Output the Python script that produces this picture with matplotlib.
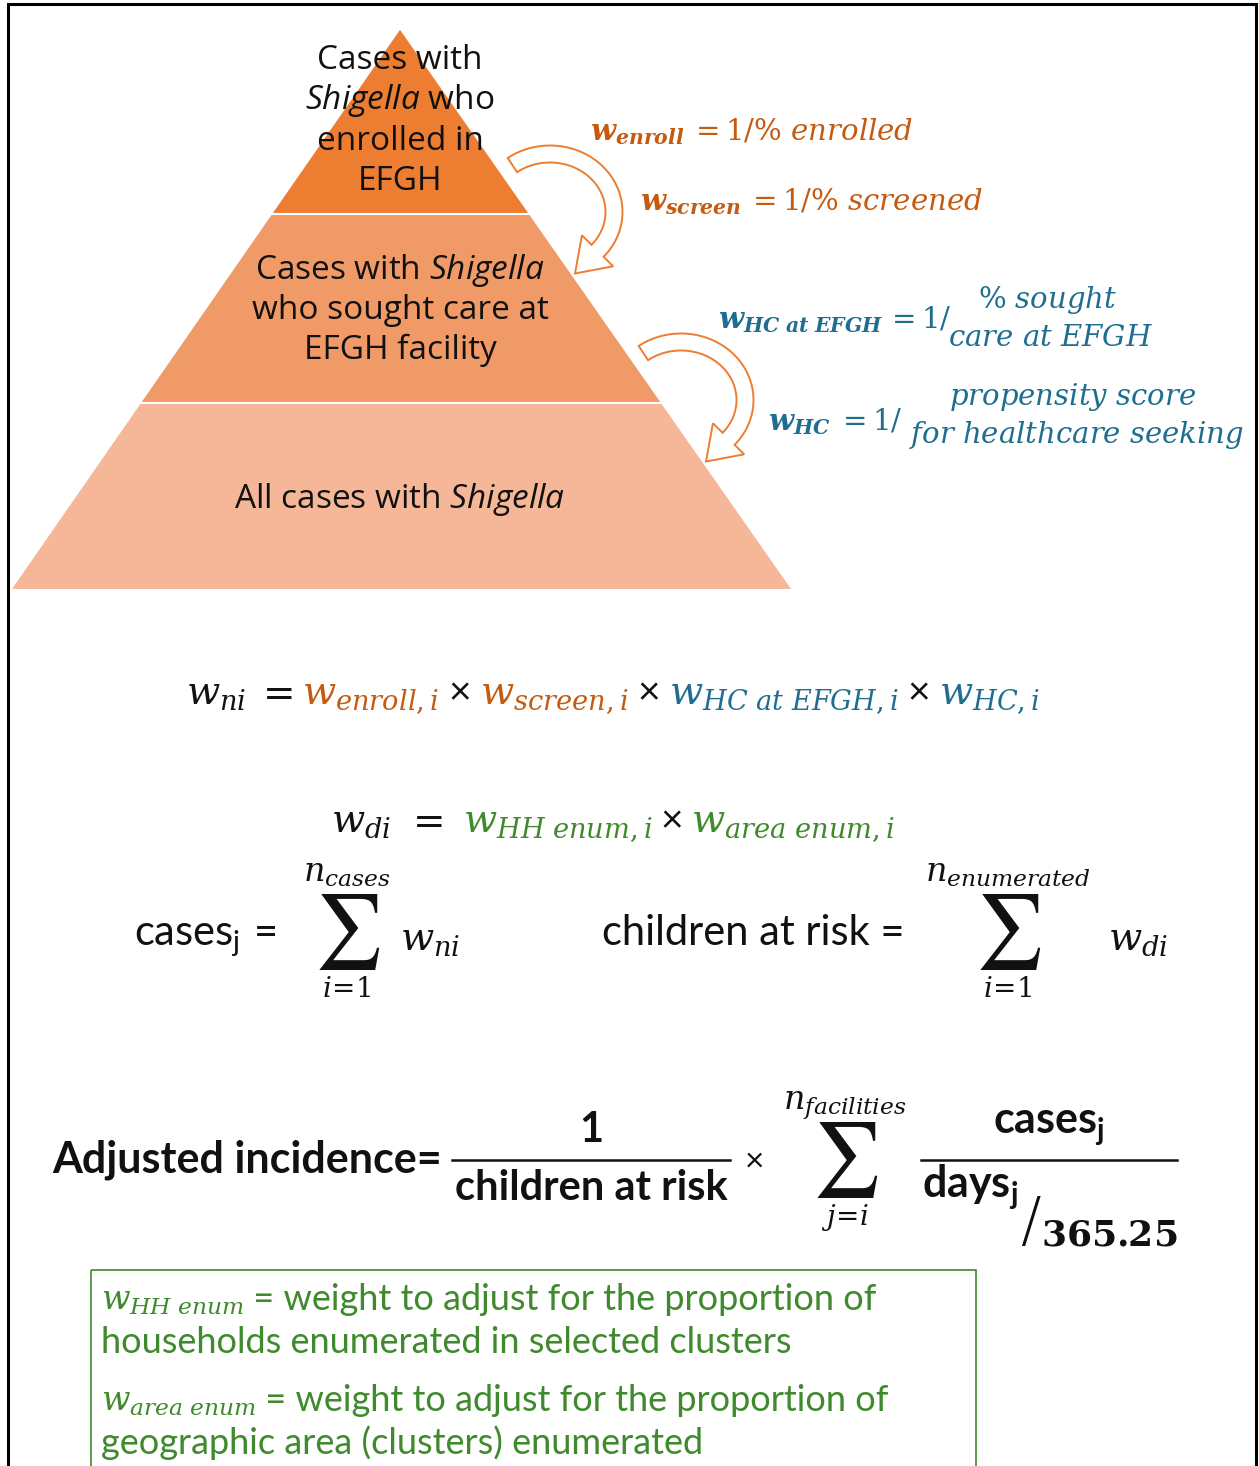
"""Shigella incidence weighting diagram: pyramid, weight rules and formulas."""

import numpy as np
import matplotlib
matplotlib.use("Agg")
import matplotlib.pyplot as plt
from matplotlib.patches import Polygon, Rectangle

W, H = 1259, 1466

# colours
ORANGE = "#C55A11"
BLUE = "#1F6E8F"
GREEN = "#3E8A2C"
BLACK = "#111111"
ARROW_EDGE = "#ED7D31"

SANS = ["Lato", "DejaVu Sans"]
WIDE = ["Open Sans", "DejaVu Sans"]

plt.rcParams["mathtext.rm"] = "Lato"
plt.rcParams["mathtext.bf"] = "Lato:bold"
plt.rcParams["mathtext.it"] = "Open Sans:italic"

# pyramid tiers, top to bottom
TIER_COLORS = ["#ED7D31", "#F09A68", "#F5B797"]
TIER_LABELS = [
    ["Cases with", r"$\mathit{Shigella}$ who", "enrolled in", "EFGH"],
    [r"Cases with $\mathit{Shigella}$", "who sought care at", "EFGH facility"],
    [r"All cases with $\mathit{Shigella}$"],
]

# weight rules next to the pyramid
ENROLL_RULE = [r"$\mathbfit{w}_{\mathbfit{enroll}}$", r"$=1/\%\ \mathit{enrolled}$"]
SCREEN_RULE = [r"$\mathbfit{w}_{\mathbfit{screen}}$", r"$=1/\%\ \mathit{screened}$"]
HC_EFGH_RULE = [r"$\mathbfit{w}_{\mathbfit{HC\ at\ EFGH}}$", r"$=1/$"]
HC_EFGH_FRAC = [r"$\%\ \mathit{sought}$", r"$\mathit{care\ at\ EFGH}$"]
HC_RULE = [r"$\mathbfit{w}_{\mathbfit{HC}}$", r"$=1/$"]
HC_FRAC = [r"$\mathit{propensity\ score}$", r"$\mathit{for\ healthcare\ seeking}$"]

# numerator / denominator weight products
WN_TERMS = [(r"$w_{ni}$", BLACK), (r"$=$", BLACK), (r"$w_{enroll,i}$", ORANGE),
            ("×", BLACK), (r"$w_{screen,i}$", ORANGE), ("×", BLACK),
            (r"$w_{HC\ at\ EFGH,i}$", BLUE), ("×", BLACK), (r"$w_{HC,i}$", BLUE)]
WD_TERMS = [(r"$w_{di}$", BLACK), (r"$=$", BLACK), (r"$w_{HH\ enum,i}$", GREEN),
            ("×", BLACK), (r"$w_{area\ enum,i}$", GREEN)]

# sums: (centre x, upper limit, lower limit, summand, summand x)
SUMS = [(347, r"$n_{cases}$", r"$i\!=\!1$", r"$w_{ni}$", 400),
        (1008, r"$n_{enumerated}$", r"$i\!=\!1$", r"$w_{di}$", 1108)]

# definitions box
BOX_LINES = [
    (r"$w_{HH\ enum}$", " = weight to adjust for the proportion of"),
    (None, "households enumerated in selected clusters"),
    (r"$w_{area\ enum}$", " = weight to adjust for the proportion of"),
    (None, "geographic area (clusters) enumerated"),
]


def serif(color, size, **kw):
    return dict(color=color, fontsize=size, math_fontfamily="dejavuserif", **kw)


def sans(color, size, family=SANS, **kw):
    return dict(color=color, fontsize=size, family=family,
                math_fontfamily="custom", **kw)


def text_run(ax, x, y, pieces, renderer, align="left", gap=0.0):
    """Place (text, style) pieces side by side on one baseline."""
    artists, widths = [], []
    for txt, style in pieces:
        t = ax.text(0, y, txt, va="baseline", ha="left", **style)
        widths.append(t.get_window_extent(renderer).width)
        artists.append(t)
    gaps = gap if isinstance(gap, (list, tuple)) else [gap] * (len(pieces) - 1)
    total = sum(widths) + sum(gaps)
    start = x - total / 2 if align == "center" else x
    for i, (t, w) in enumerate(zip(artists, widths)):
        t.set_x(start)
        start += w + (gaps[i] if i < len(gaps) else 0)
    return artists


def big_sum(ax, cx, cy, upper, lower):
    ax.text(cx, cy, r"$\sum$", ha="center", va="center", fontsize=54,
            color=BLACK, math_fontfamily="stix")
    ax.text(cx, cy - 50, upper, ha="center", va="baseline", **serif(BLACK, 24))
    ax.text(cx, cy + 65, lower, ha="center", va="baseline", **serif(BLACK, 20))


def arc_arrow(ax, cx, cy, rx, ry, theta0, theta1, tail_w=17, head_w=44,
              head_len=32):
    """Hollow block arrow running clockwise along an ellipse (image coords)."""
    th = np.radians(np.linspace(theta0, theta1, 60))
    px, py = cx + rx * np.cos(th), cy - ry * np.sin(th)
    # direction of travel (clockwise) and outward normal
    tx, ty = rx * np.sin(th), ry * np.cos(th)
    norm = np.hypot(tx, ty)
    tx, ty = tx / norm, ty / norm
    nx, ny = ty, -tx
    outer = np.column_stack([px + nx * tail_w / 2, py + ny * tail_w / 2])
    inner = np.column_stack([px - nx * tail_w / 2, py - ny * tail_w / 2])
    bx, by = px[-1], py[-1]
    head = [(bx + nx[-1] * head_w / 2, by + ny[-1] * head_w / 2),
            (bx + tx[-1] * head_len, by + ty[-1] * head_len),
            (bx - nx[-1] * head_w / 2, by - ny[-1] * head_w / 2)]
    verts = np.vstack([outer, head, inner[::-1]])
    ax.add_patch(Polygon(verts, closed=True, fc="white", ec=ARROW_EDGE,
                         lw=1.4, zorder=3, joinstyle="miter"))


def draw_pyramid(ax):
    apex_x, apex_y = 400, 28
    base_y, base_l, base_r = 590, 10, 793
    bounds = [apex_y, 214, 403, base_y]

    def edge(y):
        f = (y - apex_y) / (base_y - apex_y)
        return apex_x - f * (apex_x - base_l), apex_x + f * (base_r - apex_x)

    for i, color in enumerate(TIER_COLORS):
        y0, y1 = bounds[i], bounds[i + 1]
        l0, r0 = edge(y0)
        l1, r1 = edge(y1)
        ax.add_patch(Polygon([(l0, y0), (r0, y0), (r1, y1), (l1, y1)],
                             closed=True, fc=color, ec="white", lw=1.5, zorder=1))

    baselines = [[69, 109, 150, 190], [279, 319, 359], [508]]
    for lines, ys in zip(TIER_LABELS, baselines):
        for line, y in zip(lines, ys):
            ax.text(400, y, line, ha="center", va="baseline", zorder=4,
                    **sans(BLACK, 24, family=WIDE))


def main():
    fig = plt.figure(figsize=(W / 100, H / 100), dpi=100)
    ax = fig.add_axes([0, 0, 1, 1])
    ax.set_xlim(0, W)
    ax.set_ylim(H, 0)
    ax.axis("off")
    renderer = fig.canvas.get_renderer()

    # outer frame (open at the bottom)
    ax.plot([8, 8, 1256, 1256], [H, 4, 4, H], color="black", lw=2.2,
            solid_joinstyle="miter")

    draw_pyramid(ax)
    arc_arrow(ax, 550, 212, 64, 58, 126, -42)
    arc_arrow(ax, 681, 400, 64, 58, 126, -42)

    # weight rules
    rs = 21
    text_run(ax, 590, 140, [(t, serif(ORANGE, rs)) for t in ENROLL_RULE],
             renderer, gap=6)
    text_run(ax, 640, 210, [(t, serif(ORANGE, rs)) for t in SCREEN_RULE],
             renderer, gap=6)
    text_run(ax, 718, 328, [(t, serif(BLUE, rs)) for t in HC_EFGH_RULE],
             renderer, gap=2)
    ax.text(1048, 308, HC_EFGH_FRAC[0], ha="center", va="baseline", **serif(BLUE, rs))
    ax.text(1050, 346, HC_EFGH_FRAC[1], ha="center", va="baseline", **serif(BLUE, rs))
    text_run(ax, 768, 430, [(t, serif(BLUE, rs)) for t in HC_RULE],
             renderer, gap=6)
    ax.text(1073, 405, HC_FRAC[0], ha="center", va="baseline", **serif(BLUE, rs))
    ax.text(1076, 443, HC_FRAC[1], ha="center", va="baseline", **serif(BLUE, rs))

    # w_ni and w_di products
    fs = 28
    pieces = [(t, sans(c, fs) if t == "×" else serif(c, fs)) for t, c in WN_TERMS]
    text_run(ax, 613, 704, pieces, renderer, align="center", gap=9)
    pieces = [(t, sans(c, fs) if t == "×" else serif(c, fs)) for t, c in WD_TERMS]
    text_run(ax, 613, 832, pieces, renderer, align="center", gap=[14, 20, 8, 8])

    # case and denominator sums
    text_run(ax, 134, 945, [(r"cases$_{\mathrm{j}}$", sans(BLACK, 30)),
                            ("=", sans(BLACK, 30))], renderer, gap=14)
    ax.text(602, 945, "children at risk =", ha="left", va="baseline",
            **sans(BLACK, 30))
    for cx, upper, lower, summand, wx in SUMS:
        big_sum(ax, cx, 932, upper, lower)
        ax.text(wx, 950, summand, ha="left", va="baseline", **serif(BLACK, 28))

    # adjusted incidence
    bold = dict(weight="bold")
    ax.text(52, 1172, "Adjusted incidence=", ha="left", va="baseline",
            **sans(BLACK, 31, **bold))
    ax.plot([452, 730], [1160, 1160], color=BLACK, lw=1.8)
    ax.text(591, 1142, "1", ha="center", va="baseline", **sans(BLACK, 30, **bold))
    ax.text(591, 1200, "children at risk", ha="center", va="baseline",
            **sans(BLACK, 30, **bold))
    ax.text(755, 1162, "×", ha="center", va="center", **sans(BLACK, 24))
    big_sum(ax, 845, 1160, r"$n_{facilities}$", r"$j\!=\!i$")
    ax.plot([921, 1177], [1160, 1160], color=BLACK, lw=1.8)
    ax.text(1049, 1133, r"cases$_{\mathbf{j}}$", ha="center", va="baseline",
            **sans(BLACK, 31, **bold))
    ax.text(922, 1197, r"days$_{\mathbf{j}}$", ha="left", va="baseline",
            **sans(BLACK, 31, **bold))
    ax.text(1030, 1223, "/", ha="center", va="center", fontsize=44,
            color=BLACK, family="DejaVu Sans", weight="light")
    ax.text(1041, 1245, r"$\mathbf{365.25}$", ha="left", va="baseline",
            **serif(BLACK, 26))

    # definitions box
    ax.add_patch(Rectangle((91, 1270), 885, 220, fc="none", ec=GREEN, lw=1.2))
    for (sym, txt), y in zip(BOX_LINES, [1310, 1353, 1411, 1454]):
        pieces = []
        if sym:
            pieces.append((sym, serif(GREEN, 24)))
        pieces.append((txt, sans(GREEN, 26)))
        text_run(ax, 101, y, pieces, renderer)

    fig.savefig("out.png", dpi=100, facecolor="white")


if __name__ == "__main__":
    main()
